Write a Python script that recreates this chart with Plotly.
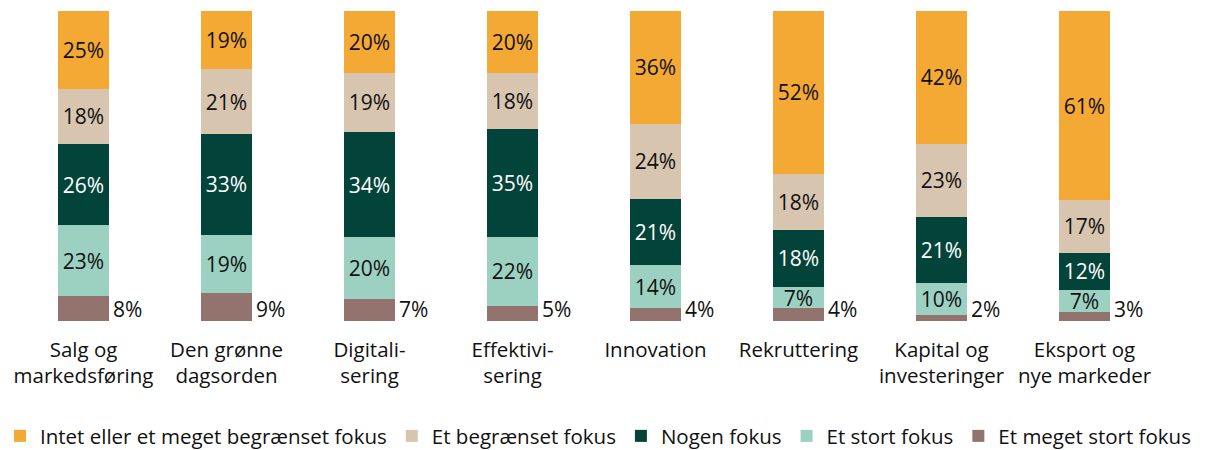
import plotly.graph_objects as go

categories = ["Salg og<br>markedsføring", "Den grønne<br>dagsorden", "Digitali-<br>sering",
              "Effektivi-<br>sering", "Innovation", "Rekruttering",
              "Kapital og<br>investeringer", "Eksport og<br>nye markeder"]

meget_stort = [8, 9, 7, 5, 4, 4, 2, 3]
stort = [23, 19, 20, 22, 14, 7, 10, 7]
nogen = [26, 33, 34, 35, 21, 18, 21, 12]
begraenset = [18, 21, 19, 18, 24, 18, 23, 17]
intet = [25, 19, 20, 20, 36, 52, 42, 61]

series = [
    ("Et meget stort fokus", meget_stort, "#93736D", "#111111"),
    ("Et stort fokus", stort, "#9CD1C2", "#111111"),
    ("Nogen fokus", nogen, "#02433A", "#FFFFFF"),
    ("Et begrænset fokus", begraenset, "#D8C5AF", "#111111"),
    ("Intet eller et meget begrænset fokus", intet, "#F5A935", "#111111"),
]

FONT = "Open Sans"
fig = go.Figure()
for i, (name, vals, color, tcolor) in enumerate(series):
    fig.add_trace(go.Bar(
        name=name, x=categories, y=vals,
        marker=dict(color=color, line=dict(width=0)),
        text=[f"{v}%" for v in vals] if i > 0 else None,
        textposition="inside" if i > 0 else "none",
        insidetextanchor="middle",
        textangle=0,
        constraintext="none",
        textfont=dict(family=FONT, size=21, color=tcolor),
        hoverinfo="skip",
    ))

for c, v in zip(categories, meget_stort):
    fig.add_annotation(x=c, y=0, xref="x", yref="y", text=f"{v}%",
                       showarrow=False, xanchor="left", yanchor="bottom",
                       xshift=27, yshift=-4,
                       font=dict(family=FONT, size=21, color="#111111"))

# plot area 12..1224 px, 143 px per category
fig.update_layout(
    barmode="stack", barnorm="percent", bargap=0.643,
    width=1228, height=450,
    margin=dict(l=12, r=4, t=11, b=129, autoexpand=False),
    paper_bgcolor="white", plot_bgcolor="white",
    font=dict(family=FONT, size=20.5, color="#111111"),
    xaxis=dict(showgrid=False, showline=False, zeroline=False, ticks="",
               automargin=False, ticklabelstandoff=14,
               range=[-0.5, -0.5 + 1212 / 143],
               tickfont=dict(family=FONT, size=20.5, color="#111111")),
    yaxis=dict(visible=False, range=[0, 100]),
    legend=dict(orientation="h", traceorder="reversed",
                xref="container", yref="container",
                x=-0.004, y=0.031, xanchor="left", yanchor="middle",
                font=dict(family=FONT, size=20.5, color="#111111"),
                itemwidth=30),
    showlegend=True,
)

fig.write_html("out.html", config={"displayModeBar": False},
               post_script="document.body.style.margin='0';document.body.style.padding='0';")
